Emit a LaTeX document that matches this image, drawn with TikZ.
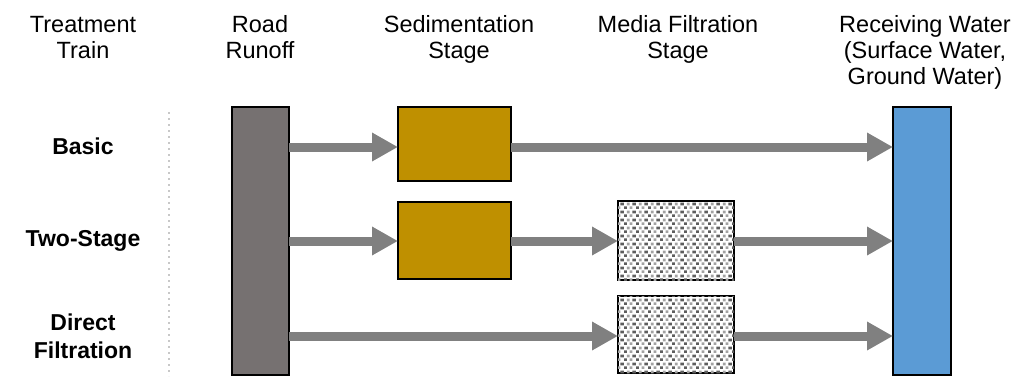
\documentclass[tikz,border=0pt]{standalone}
\usepackage{fontspec}
\setmainfont{Liberation Sans}
\usetikzlibrary{arrows.meta,patterns}

\definecolor{runoff}{HTML}{767171}
\definecolor{sediment}{HTML}{BF9000}
\definecolor{water}{HTML}{5B9BD5}
\definecolor{flow}{HTML}{808080}
\definecolor{speckdark}{HTML}{5E5E5E}
\definecolor{specklight}{HTML}{A2A2A2}
\definecolor{divider}{HTML}{C8C8C8}

% two-tone speckled fill for the media filter blocks
\pgfdeclarepatterninherentlycolored{speckle}{\pgfpointorigin}{\pgfpoint{12pt}{8pt}}{\pgfpoint{12pt}{8pt}}{%
  \pgfsetfillcolor{speckdark}%
  \pgfpathrectangle{\pgfpoint{0pt}{0pt}}{\pgfpoint{3pt}{3pt}}%
  \pgfpathrectangle{\pgfpoint{9pt}{4pt}}{\pgfpoint{3pt}{3pt}}%
  \pgfusepath{fill}%
  \pgfsetfillcolor{specklight}%
  \pgfpathrectangle{\pgfpoint{6pt}{0pt}}{\pgfpoint{3pt}{3pt}}%
  \pgfpathrectangle{\pgfpoint{3pt}{4pt}}{\pgfpoint{3pt}{3pt}}%
  \pgfusepath{fill}}

\tikzset{
  unit/.style={draw=black, line width=1.5pt, inner sep=0pt, outer sep=0pt},
  filter/.style={unit, fill=white, postaction={pattern=speckle}},
  flowarrow/.style={draw=flow, line width=9pt,
    -{Triangle[width=27pt,length=26pt]}},
  header/.style={align=center, anchor=base, font=\fontsize{23.5}{26}\selectfont},
  trainlabel/.style={align=center, font=\bfseries\fontsize{23}{28}\selectfont},
}

\begin{document}
\begin{tikzpicture}[x=1pt,y=-1pt]
\useasboundingbox (0,0) rectangle (1013,376);

% column headers (placed by the baseline of their last line)
\node[header] (hTrain) at (83,58) {Treatment\\Train};
\node[header] (hRoad) at (260,58) {Road\\Runoff};
\node[header] (hSed) at (459,58) {Sedimentation\\Stage};
\node[header] (hFilt) at (678,58) {Media Filtration\\Stage};
\node[header] (hRecv) at (925,84) {Receiving Water\\(Surface Water,\\Ground Water)};

% train names
\node[trainlabel] (lBasic) at (83,146) {Basic};
\node[trainlabel] (lTwo) at (83,241) {Two-Stage};
\node[trainlabel] (lDirect) at (83,336) {Direct\\Filtration};

% divider
\draw[divider, line width=2pt, dash pattern=on 2pt off 4pt] (169,112) -- (169,376);

% row levels
\coordinate (r1) at (0,147);
\coordinate (r2) at (0,241);
\coordinate (r3) at (0,336);

% treatment units
\node[unit, fill=runoff, minimum width=57pt, minimum height=268pt] (road) at (260.5,241) {};
\node[unit, fill=water, minimum width=58pt, minimum height=268pt] (recv) at (922,241) {};
\node[unit, fill=sediment, minimum width=113pt, minimum height=74pt] (sed1) at (454.5,144) {};
\node[unit, fill=sediment, minimum width=113pt, minimum height=77pt] (sed2) at (454.5,240.5) {};
\node[filter, minimum width=116pt, minimum height=79pt] (filt2) at (676,240.5) {};
\node[filter, minimum width=116pt, minimum height=77pt] (filt3) at (676,334.5) {};

% flows
\draw[flowarrow] (road.east |- r1) -- (sed1.west |- r1);
\draw[flowarrow] (sed1.east |- r1) -- (recv.west |- r1);
\draw[flowarrow] (road.east |- r2) -- (sed2.west |- r2);
\draw[flowarrow] (sed2.east |- r2) -- (filt2.west |- r2);
\draw[flowarrow] (filt2.east |- r2) -- (recv.west |- r2);
\draw[flowarrow] (road.east |- r3) -- (filt3.west |- r3);
\draw[flowarrow] (filt3.east |- r3) -- (recv.west |- r3);
\end{tikzpicture}
\end{document}
